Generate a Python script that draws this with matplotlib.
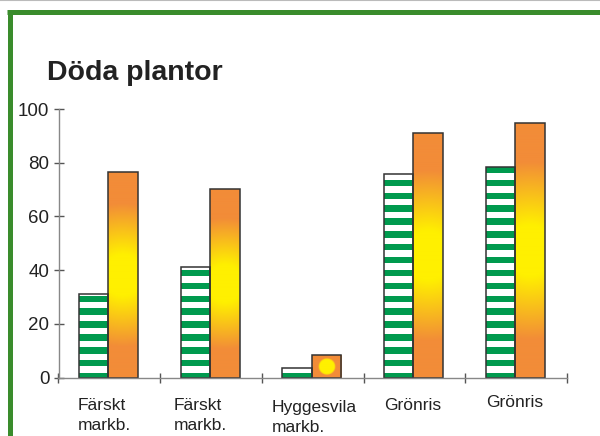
import numpy as np
import matplotlib
matplotlib.use("Agg")
import matplotlib.pyplot as plt
from matplotlib.lines import Line2D

# data
categories = ["Färskt\nmarkb.", "Färskt\nmarkb.", "Hyggesvila\nmarkb.", "Grönris", "Grönris"]
green_vals = [31.2, 41.2, 3.4, 75.8, 78.3]
orange_vals = [76.6, 70.2, 8.4, 90.9, 94.7]
yticks = [0, 20, 40, 60, 80, 100]
title = "Döda plantor"

# label placement in pixels (left x, top y), as in the picture
label_pos = [(78, 398), (174, 398), (272, 400), (384, 398), (486, 395)]

W, H = 600, 436
plt.rcParams['font.family'] = ['Liberation Sans', 'DejaVu Sans']

fig = plt.figure(figsize=(W / 100, H / 100), dpi=100)
ax = fig.add_axes([58.5 / W, 1 - 377.5 / H, 508.5 / W, 268.5 / H])

GREEN = '#009a4e'
ORANGE = np.array([242, 140, 56]) / 255.
YELLOW = np.array([255, 240, 0]) / 255.
EDGE = '#333333'
bw = 0.29
off = -0.01
x = np.arange(len(categories))
px_per_x = 508.5 / 5.
px_per_y = 268.5 / 100.

# green striped bars
gbars = ax.bar(x + off - bw / 2, green_vals, width=bw, color='white',
               edgecolor='none', zorder=2)
stripe_bot = np.arange(-0.7, 100, 4.8)
for b in gbars:
    xs = np.full(len(stripe_bot), b.get_x() + bw / 2)
    st = ax.bar(xs, 2.4, bottom=stripe_bot, width=bw, color=GREEN,
                edgecolor='none', zorder=3)
    for s in st:
        s.set_clip_path(b)
ax.bar(x + off - bw / 2, green_vals, width=bw, facecolor='none',
       edgecolor=EDGE, linewidth=1.1, zorder=5)

# orange bars with a yellow glow in the middle
obars = ax.bar(x + off + bw / 2, orange_vals, width=bw, color=ORANGE,
               edgecolor='none', zorder=2)
for b, v in zip(obars, orange_vals):
    wp = bw * px_per_x
    hp = v * px_per_y
    nx, ny = 60, max(int(hp), 20)
    u = np.linspace(0, wp, nx)
    t = np.linspace(0, hp, ny)
    U, T = np.meshgrid(u, t)
    d = np.hypot(U - wp / 2, T - hp / 2)
    core = max(0.1 * hp, 7.5)
    fade = 0.25 * hp * min(1, hp / 100)
    s = np.clip((d - core) / fade, 0, 1)[..., None]
    img = YELLOW + (ORANGE - YELLOW) * s
    im = ax.imshow(img, extent=[b.get_x(), b.get_x() + bw, 0, v],
                   origin='lower', aspect='auto', zorder=3, interpolation='bilinear')
    im.set_clip_path(b)
ax.bar(x + off + bw / 2, orange_vals, width=bw, facecolor='none',
       edgecolor=EDGE, linewidth=1.1, zorder=5)

ax.set_xlim(-0.5, 4.5)
ax.set_ylim(0, 100)
ax.set_xticks(np.arange(-0.5, 5, 1))
ax.set_xticklabels([])
ax.set_yticks(yticks)
ax.tick_params(axis='x', direction='inout', length=7, width=1, color='#555555')
ax.tick_params(axis='y', direction='inout', length=7, width=1, color='#555555',
               labelsize=13.5, labelcolor='#222222', pad=3)
for side in ['top', 'right']:
    ax.spines[side].set_visible(False)
for side in ['left', 'bottom']:
    ax.spines[side].set_color('#888888')
    ax.spines[side].set_linewidth(1)
ax.spines['bottom'].set_zorder(6)
ax.patch.set_alpha(0)

for lab, (lx, ly) in zip(categories, label_pos):
    fig.text(lx / W, 1 - ly / H, lab, ha='left', va='top', fontsize=12.5,
             color='#222222', linespacing=1.45)

fig.text(47 / W, 1 - 80 / H, title, ha='left', va='baseline', fontsize=20.5,
         fontweight='bold', color='#222222')

# green frame
fig.add_artist(Line2D([7 / W, 1], [1 - 12.5 / H, 1 - 12.5 / H], color='#3a8c2c',
                      linewidth=3.6, transform=fig.transFigure, solid_capstyle='butt'))
fig.add_artist(Line2D([9.5 / W, 9.5 / W], [0, 1 - 10.5 / H], color='#3a8c2c',
                      linewidth=3.6, transform=fig.transFigure, solid_capstyle='butt'))
fig.add_artist(Line2D([0, 1], [1 - 0.5 / H, 1 - 0.5 / H], color='#bbbbbb',
                      linewidth=0.8, transform=fig.transFigure))

fig.savefig("out.png", dpi=100)
